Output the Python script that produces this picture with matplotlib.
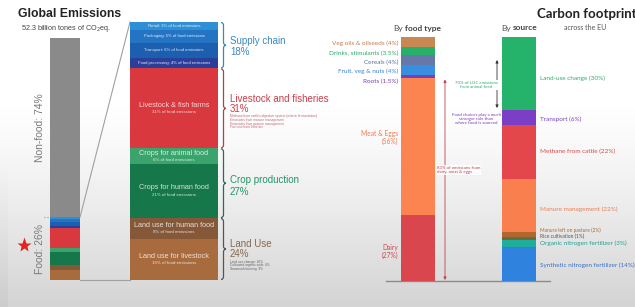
import numpy as np
import matplotlib
matplotlib.use('Agg')
import matplotlib.pyplot as plt
from matplotlib.path import Path
from matplotlib.patches import PathPatch
from matplotlib.transforms import blended_transform_factory

W, H = 635, 307

# ---------------- data ----------------
overview_labels = ['Non-food', 'Food']
overview_share = [74, 26]

food_cats = ['Retail', 'Packaging', 'Transport', 'Food processing',
             'Livestock & fish farms', 'Crops for animal food', 'Crops for human food',
             'Land use for human food', 'Land use for livestock']
food_share = [3, 5, 6, 4, 31, 6, 21, 8, 16]
food_colors = ['#2f8fd6', '#2474c4', '#1c5fae', '#2b3f9a', '#d8383e',
               '#3aa46c', '#16784a', '#86583a', '#a76b3d']

group_names = ['Supply chain', 'Livestock and fisheries', 'Crop production', 'Land Use']
group_share = [18, 31, 27, 24]
group_colors = ['#3a88c2', '#cf3d47', '#23946a', '#85684f']
brace_colors = ['#3a88c2', '#b0404a', '#23704f', '#555555']

type_labels = ['Veg oils & oilseeds', 'Drinks, stimulants', 'Cereals', 'Fruit, veg & nuts',
               'Roots', 'Meat & Eggs', 'Dairy']
type_share = [4, 3.5, 4, 4, 1.5, 56, 27]
type_colors = ['#c98752', '#27b06a', '#6677aa', '#3a8ee0', '#7a3fb2', '#fb8451', '#d9464e']
type_text_colors = ['#c07a50', '#2aa866', '#5f6f9f', '#3a80d8', '#7a40b0', '#f07a50', '#d04650']

source_labels = ['Land-use change', 'Transport', 'Methane from cattle', 'Manure management',
                 'Manure left on pasture', 'Rice cultivation', 'Organic nitrogen fertilizer',
                 'Synthetic nitrogen fertilizer']
source_share = [30, 6, 22, 22, 2, 1, 3, 14]
source_colors = ['#25b36c', '#7a3fc4', '#e4474b', '#fa7f4f', '#b0682f', '#6b6a3a', '#1fae9c', '#2f83de']
source_text_colors = ['#2aae6c', '#7b40c0', '#e04848', '#ef7d4f', '#a86a3a', '#555555', '#20a090', '#3a70c8']

# ---------------- figure ----------------
fig = plt.figure(figsize=(W / 100, H / 100), dpi=100)
bg = fig.add_axes([0, 0, 1, 1])
bg.set_xlim(0, W)
bg.set_ylim(H, 0)
bg.axis('off')

# background gradient
yy = np.arange(H)[:, None]
xx = np.arange(W)[None, :]
val = 1 - 0.17 * np.clip((yy - 105) / (H - 105), 0, 1) ** 1.2 + 0 * xx
val = val - 0.03 * (xx < 8) * np.clip((yy - 150) / 150, 0, 1)
img = np.dstack([val, val, val])
bg.imshow(img, extent=[0, W, H, 0], aspect='auto', zorder=0)
bg.set_xlim(0, W)
bg.set_ylim(H, 0)

LEFT_FONT = 'Liberation Sans'
RIGHT_FONT = 'Lato'


def px_axes(x0, y0, x1, y1):
    ax = fig.add_axes([x0 / W, 1 - y1 / H, (x1 - x0) / W, (y1 - y0) / H])
    ax.set_xlim(0, 1)
    ax.set_ylim(100, 0)
    ax.axis('off')
    ax.patch.set_alpha(0)
    return ax


def stack(ax, values, colors):
    cum = np.concatenate([[0], np.cumsum(values)])
    ax.bar([0] * len(values), values, bottom=cum[:-1], width=1, align='edge',
           color=colors, linewidth=0)
    return cum


def to_px(ax, v):
    return bg.transData.inverted().transform(ax.transData.transform((0, v)))[1]


def brace(x, y0, y1, color, w=5):
    ym = (y0 + y1) / 2
    r = min(3.0, (y1 - y0) / 6)
    h = w / 2
    verts = [(x, y0), (x + h, y0), (x + h, y0 + r), (x + h, ym - r),
             (x + h, ym), (x + w, ym), (x + h, ym), (x + h, ym + r),
             (x + h, y1 - r), (x + h, y1), (x, y1)]
    codes = [Path.MOVETO, Path.CURVE3, Path.CURVE3, Path.LINETO,
             Path.CURVE3, Path.CURVE3, Path.CURVE3, Path.CURVE3,
             Path.LINETO, Path.CURVE3, Path.CURVE3]
    bg.add_patch(PathPatch(Path(verts, codes), fill=False, edgecolor=color, lw=0.9, zorder=3))


# ---------------- left overview bar ----------------
axL = px_axes(50, 38, 80, 280)
left_vals = [overview_share[0]] + [v * overview_share[1] / 100 for v in food_share]
left_cols = ['#8a8a8a'] + food_colors
cumL = stack(axL, left_vals, left_cols)

bg.text(18, 14, 'Global Emissions', fontsize=8.8, fontweight='bold', family=LEFT_FONT,
        color='#222222', va='center', ha='left')
bg.text(21, 28, '52.3 billion tones of CO$_2$eq.', fontsize=5.2, family=LEFT_FONT,
        color='#444444', va='center', ha='left')
tL = blended_transform_factory(bg.transData, axL.transData)
bg.text(40, overview_share[0] / 2, f'{overview_labels[0]}: {overview_share[0]}%', transform=tL,
        rotation=90, fontsize=7.5, family=LEFT_FONT, color='#7a7a7a', ha='center', va='center')
bg.text(40, overview_share[0] + overview_share[1] / 2, f'{overview_labels[1]}: {overview_share[1]}%',
        transform=tL, rotation=90, fontsize=7.5, family=LEFT_FONT, color='#7a7a7a',
        ha='center', va='center')
bg.plot([24], [245], marker='*', color='#e8231f', markersize=11, zorder=4, mec='none')
yfood = to_px(axL, overview_share[0])
bg.plot([44, 50], [yfood, yfood], ls=':', color='#999999', lw=0.8, zorder=3)

# ---------------- middle breakdown bar ----------------
axM = px_axes(130, 22, 218, 280)
cumM = stack(axM, food_share, food_colors)

# connectors
bg.plot([80, 130], [yfood, to_px(axM, 0)], color='#a0a0a0', lw=0.8, zorder=2)
bg.plot([80, 130], [to_px(axL, 100), to_px(axM, 100)], color='#a0a0a0', lw=0.8, zorder=2)

for i, (name, v) in enumerate(zip(food_cats, food_share)):
    mid = cumM[i] + v / 2
    sub = f'{v}% of food emissions'
    if v <= 6 and i < 4:
        axM.text(0.5, mid, f'{name}: {sub}', fontsize=3.1, color='white', alpha=0.85,
                 ha='center', va='center', family=LEFT_FONT)
    else:
        axM.text(0.5, mid - 1.2, name, fontsize=5.2, color='white', alpha=0.8,
                 ha='center', va='center', family=LEFT_FONT)
        axM.text(0.5, mid + 1.5, sub, fontsize=3.2, color='white', alpha=0.8,
                 ha='center', va='center', family=LEFT_FONT)

# braces and group labels
gcum = np.concatenate([[0], np.cumsum(group_share)])
name_off = [-4, -9, -3, -4.8]
pct_off = [7, 1, 9, 4.5]
for i, (name, v) in enumerate(zip(group_names, group_share)):
    y0 = to_px(axM, gcum[i])
    y1 = to_px(axM, gcum[i + 1])
    brace(221, y0 + 0.5, y1 - 0.5, brace_colors[i])
    ym = (y0 + y1) / 2
    bg.text(230, ym + name_off[i], name, fontsize=7, family=LEFT_FONT,
            color=group_colors[i], ha='left', va='center')
    bg.text(230, ym + pct_off[i], f'{v}%', fontsize=7, family=LEFT_FONT,
            color=group_colors[i], ha='left', va='center')

live_notes = ["Methane from cattle's digestive system (enteric fermentation)",
              'Emissions from manure management',
              'Emissions from pasture management',
              'Fuel use from fisheries']
for k, s in enumerate(live_notes):
    bg.text(230, 116.5 + k * 3.5, s, fontsize=2.3, color='#b04050', family=LEFT_FONT,
            ha='left', va='center', alpha=0.8)
land_notes = ['Land use change: 16%', 'Cultivated organic soils: 4%', 'Savannah burning: 3%']
for k, s in enumerate(land_notes):
    bg.text(230, 261.5 + k * 3.6, s, fontsize=2.3, color='#444444', family=LEFT_FONT,
            ha='left', va='center', alpha=0.8)

# ---------------- right: by food type ----------------
axT = px_axes(401, 37, 435, 281)
cumT = stack(axT, type_share, type_colors)
type_off = [1, 2, 2.5, 1, 5, -9.5, 3]
for i, (name, v) in enumerate(zip(type_labels, type_share)):
    ym = to_px(axT, cumT[i] + v / 2) + type_off[i]
    if v > 10:
        bg.text(398, ym, f'{name}\n({v:g}%)', fontsize=4.8,
                family=RIGHT_FONT, color=type_text_colors[i], ha='right', va='center',
                linespacing=1.15)
    else:
        bg.text(398, ym, f'{name} ({v:g}%)', fontsize=4.6, family=RIGHT_FONT,
                color=type_text_colors[i], ha='right', va='center')

bg.text(393, 28, 'By', fontsize=6, family=RIGHT_FONT, color='#555555', ha='left', va='center')
bg.text(405, 28, 'food type', fontsize=6, family=RIGHT_FONT, fontweight='bold',
        color='#444444', ha='left', va='center')

# red arrow spanning meat & dairy
y_top = to_px(axT, cumT[5])
y_bot = to_px(axT, cumT[7])
bg.annotate('', xy=(445, y_top + 1), xytext=(445, y_bot - 1),
            arrowprops=dict(arrowstyle='<|-|>', color='#c0404f', lw=0.6,
                            mutation_scale=4, shrinkA=0, shrinkB=0), zorder=3)
share_ad = type_share[5] + type_share[6]
bg.text(437, 170, f'{share_ad:g}% of emissions from\ndairy, meat & eggs', fontsize=3.2,
        family=RIGHT_FONT, color='#c0404f', ha='left', va='center', linespacing=1.1,
        bbox=dict(boxstyle='square,pad=0.1', fc='white', ec='none', alpha=0.9), zorder=4)

# baseline
bg.plot([386, 550], [to_px(axT, 100), to_px(axT, 100)], color='#8a8a8a', lw=1.0, zorder=5)

# ---------------- right: by source ----------------
axS = px_axes(502, 37, 536, 281)
cumS = stack(axS, source_share, source_colors)
src_off = [4.5, 1.5, 0, 4, -4.5, -2, 0, 1]
for i, (name, v) in enumerate(zip(source_labels, source_share)):
    ym = to_px(axS, cumS[i] + v / 2) + src_off[i]
    fs = 3.5 if v <= 2 else 4.6
    bg.text(540, ym, f'{name} ({v:g}%)', fontsize=fs, family=RIGHT_FONT,
            color=source_text_colors[i], ha='left', va='center')

bg.text(501, 28, 'By', fontsize=6, family=RIGHT_FONT, color='#555555', ha='left', va='center')
bg.text(513, 28, 'source', fontsize=6, family=RIGHT_FONT, fontweight='bold',
        color='#444444', ha='left', va='center')
bg.text(564, 28, 'across the EU', fontsize=5.0, family=RIGHT_FONT, color='#555555',
        ha='left', va='center')
bg.text(537, 14, 'Carbon footprints', fontsize=9.5, family=RIGHT_FONT, fontweight='bold',
        color='#222222', ha='left', va='center')

# black arrow on land-use change
bg.annotate('', xy=(497, 60), xytext=(497, 108),
            arrowprops=dict(arrowstyle='<|-|>', color='#333333', lw=0.6,
                            mutation_scale=4, shrinkA=0, shrinkB=0), zorder=3)
bg.text(476, 85, '70% of LUC emissions\nfrom animal feed', fontsize=3.2, family=RIGHT_FONT,
        color='#2aae6c', ha='center', va='center', linespacing=1.1,
        bbox=dict(boxstyle='square,pad=0.15', fc='white', ec='none'), zorder=4)
bg.text(476, 119, 'Food choices play a much\nstronger role than\nwhere food is sourced',
        fontsize=3.2, family=RIGHT_FONT, color='#7b40c0', ha='center', va='center',
        linespacing=1.1, zorder=4)

fig.savefig('out.png', dpi=100)
